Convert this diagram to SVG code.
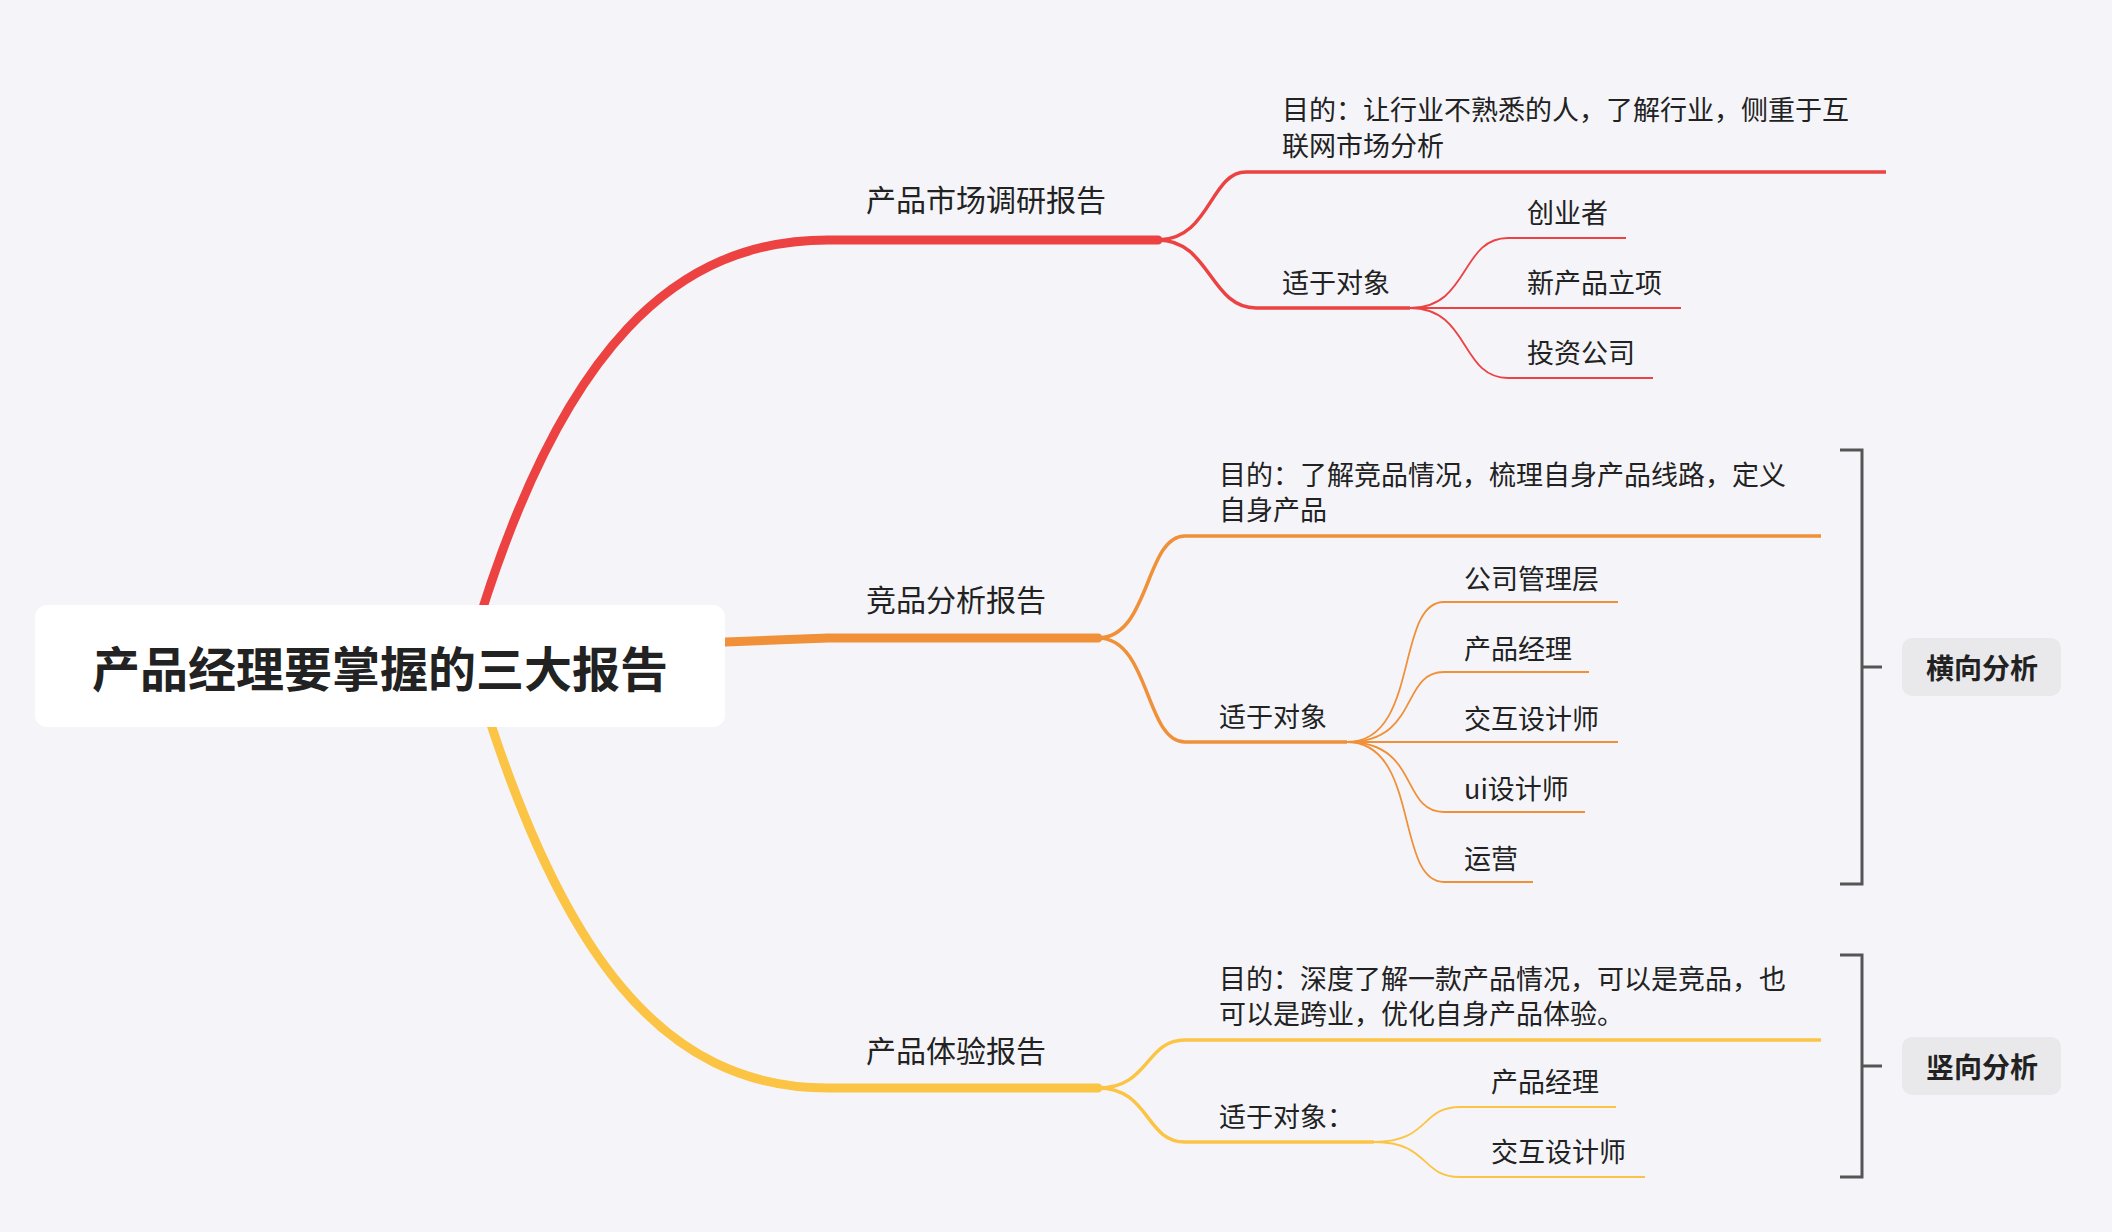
<svg xmlns="http://www.w3.org/2000/svg" width="2112" height="1232" viewBox="0 0 2112 1232">
<style>
text{font-family:"Noto Sans CJK SC","Noto Sans",sans-serif;fill:#222;dominant-baseline:central}
.t1{font-size:30px}
.t2{font-size:27px}
.r{stroke:#ec4242;fill:none}
.o{stroke:#f09038;fill:none}
.y{stroke:#fcc445;fill:none}
.m{stroke-width:9;stroke-linecap:round}
.s{stroke-width:3.5}
.l{stroke-width:1.8}
.br{stroke:#555;stroke-width:3;fill:none}
.tag{fill:#e9e9ec}
.tagt{font-size:28px;font-weight:bold}
</style>
<rect width="2112" height="1232" fill="#f5f5f9"/>
<g id="connectors">
<path class="r m" d="M470,650 C560,340 680,240 828,240 L1158,240"/>
<path class="o m" d="M700,643 L828,638 L1098,638"/>
<path class="y m" d="M480,690 C560,950 660,1088 828,1088 L1098,1088"/>
<path class="r s" d="M1158,240 C1210,240 1210,172 1246,172 L1886,172"/>
<path class="r s" d="M1158,240 C1210,240 1210,308 1256,308 L1410,308"/>
<path class="r l" d="M1410,308 C1470,308 1460,238 1508,238 L1626,238"/>
<path class="r l" d="M1410,308 L1681,308"/>
<path class="r l" d="M1410,308 C1470,308 1460,378 1508,378 L1653,378"/>
<path class="o s" d="M1098,638 C1150,638 1145,536 1185,536 L1821,536"/>
<path class="o s" d="M1098,638 C1150,638 1145,742 1185,742 L1347,742"/>
<path class="o l" d="M1347,742 C1420,742 1395,602 1444,602 L1618,602"/>
<path class="o l" d="M1347,742 C1420,742 1400,672 1444,672 L1589,672"/>
<path class="o l" d="M1347,742 L1618,742"/>
<path class="o l" d="M1347,742 C1420,742 1400,812 1444,812 L1585,812"/>
<path class="o l" d="M1347,742 C1420,742 1395,882 1444,882 L1533,882"/>
<path class="y s" d="M1098,1088 C1150,1088 1145,1040 1185,1040 L1821,1040"/>
<path class="y s" d="M1098,1088 C1150,1088 1145,1142 1185,1142 L1374,1142"/>
<path class="y l" d="M1374,1142 C1430,1142 1420,1107 1460,1107 L1616,1107"/>
<path class="y l" d="M1374,1142 C1430,1142 1420,1177 1460,1177 L1645,1177"/>
<path class="br" d="M1840,450 H1862 V884 H1840 M1862,667 H1882"/>
<path class="br" d="M1840,955 H1862 V1177 H1840 M1862,1066 H1882"/>
</g>
<g id="root"><rect x="35" y="605" width="690" height="122" rx="12" fill="#fff"/><text x="380" y="666" text-anchor="middle" style="font-size:48px;font-weight:bold">产品经理要掌握的三大报告</text></g>
<g id="b1"><text class="t1" x="866" y="198">产品市场调研报告</text></g>
<g id="b2"><text class="t1" x="866" y="598">竞品分析报告</text></g>
<g id="b3"><text class="t1" x="866" y="1049">产品体验报告</text></g>
<g id="b1a"><text class="t2" x="1282" y="108">目的：让行业不熟悉的人，了解行业，侧重于互</text><text class="t2" x="1282" y="144">联网市场分析</text></g>
<g id="b1b"><text class="t2" x="1282" y="281">适于对象</text></g>
<g id="b1b1"><text class="t2" x="1527" y="211">创业者</text></g>
<g id="b1b2"><text class="t2" x="1527" y="281">新产品立项</text></g>
<g id="b1b3"><text class="t2" x="1527" y="351">投资公司</text></g>
<g id="b2a"><text class="t2" x="1219" y="473">目的：了解竞品情况，梳理自身产品线路，定义</text><text class="t2" x="1219" y="508">自身产品</text></g>
<g id="b2b"><text class="t2" x="1219" y="715">适于对象</text></g>
<g id="b2b1"><text class="t2" x="1464" y="577">公司管理层</text></g>
<g id="b2b2"><text class="t2" x="1464" y="647">产品经理</text></g>
<g id="b2b3"><text class="t2" x="1464" y="717">交互设计师</text></g>
<g id="b2b4"><text class="t2" x="1464" y="787">ui设计师</text></g>
<g id="b2b5"><text class="t2" x="1464" y="857">运营</text></g>
<g id="b3a"><text class="t2" x="1219" y="977">目的：深度了解一款产品情况，可以是竞品，也</text><text class="t2" x="1219" y="1012">可以是跨业，优化自身产品体验。</text></g>
<g id="b3b"><text class="t2" x="1219" y="1115">适于对象：</text></g>
<g id="b3b1"><text class="t2" x="1491" y="1080">产品经理</text></g>
<g id="b3b2"><text class="t2" x="1491" y="1150">交互设计师</text></g>
<g id="tag1"><rect class="tag" x="1902" y="638" width="159" height="58" rx="10"/><text class="tagt" x="1982" y="667" text-anchor="middle">横向分析</text></g>
<g id="tag2"><rect class="tag" x="1902" y="1037" width="159" height="58" rx="10"/><text class="tagt" x="1982" y="1066" text-anchor="middle">竖向分析</text></g>
</svg>
